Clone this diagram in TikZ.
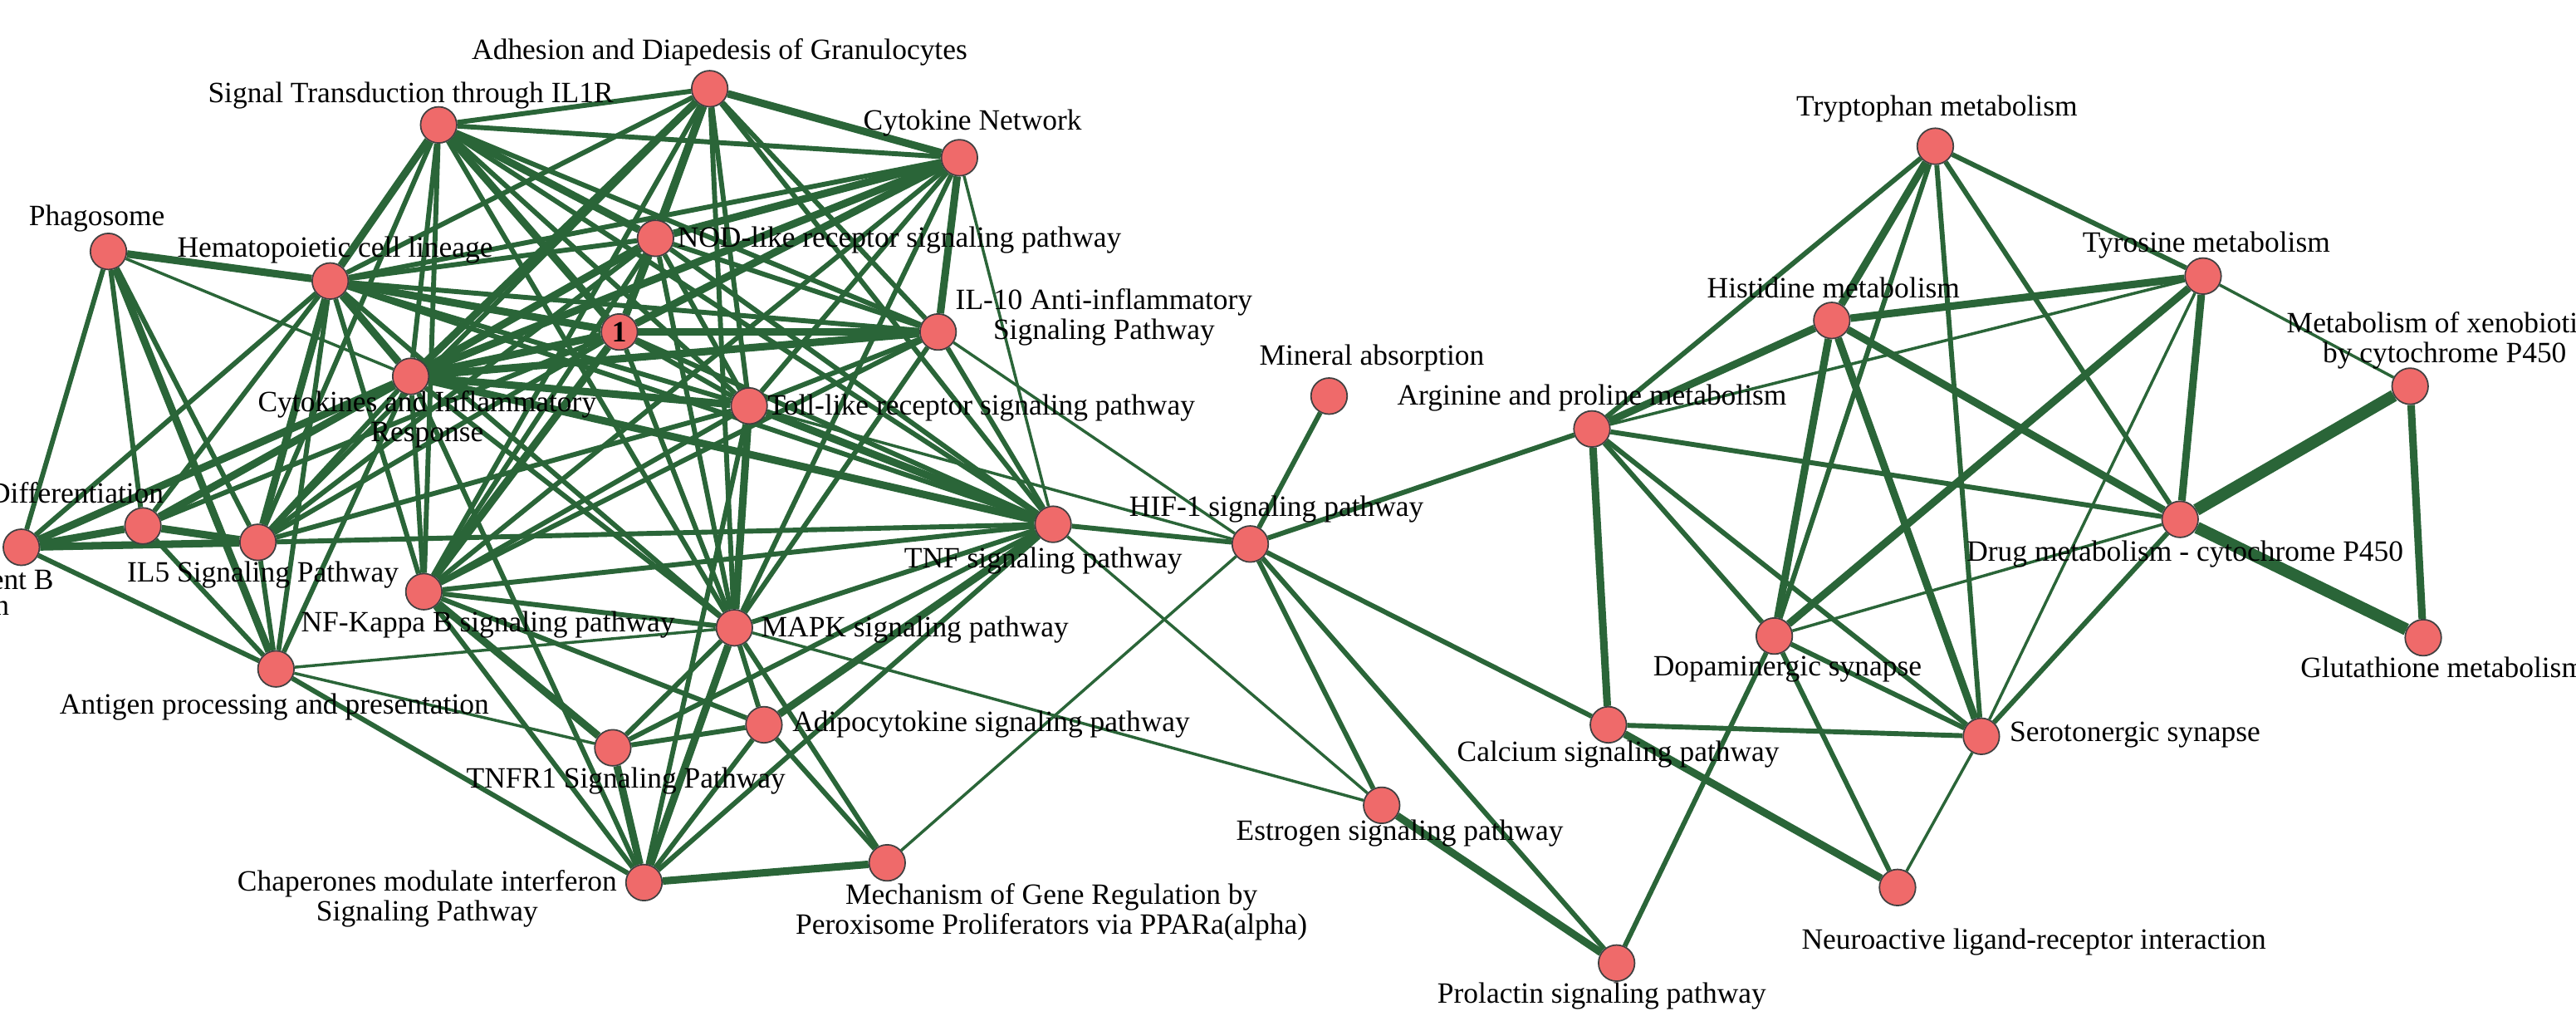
\documentclass[tikz,border=0pt]{standalone}
\usepackage{fontspec}
\setmainfont{Liberation Serif}
\definecolor{nodefill}{RGB}{239,106,106}
\definecolor{edgegreen}{RGB}{42,101,56}
\pgfdeclarelayer{bg}
\pgfsetlayers{bg,main}
\newcommand{\lblfont}{\fontsize{10.2pt}{10.4pt}\selectfont}
\tikzset{
  pnode/.style={circle, draw=black!75, line width=0.5pt, fill=nodefill, minimum size=0.44cm, inner sep=0pt},
  lbl/.style={font=\lblfont, inner sep=0pt, align=center, text=black},
  ea/.style={draw=edgegreen, line width=1.0pt},
  eb/.style={draw=edgegreen, line width=1.7pt},
  ec/.style={draw=edgegreen, line width=2.6pt},
  ed/.style={draw=edgegreen, line width=4.2pt}
}
\begin{document}
\begin{tikzpicture}[x=0.02cm,y=-0.02cm]
\useasboundingbox (0,0) rectangle (1568,618);
\clip (0,0) rectangle (1568,618);
% nodes
\node[pnode] (adh) at (432,54) {};
\node[pnode] (il1r) at (267,76) {};
\node[pnode] (cyt) at (584,96) {};
\node[pnode] (phag) at (66,153) {};
\node[pnode] (hema) at (201,171) {};
\node[pnode] (nod) at (399,145) {};
\node[pnode, font=\lblfont\bfseries] (one) at (377,202) {1};
\node[pnode] (il10) at (571,202) {};
\node[pnode] (cir) at (250,229) {};
\node[pnode] (tlr) at (456,247) {};
\node[pnode] (bnode) at (13,333) {};
\node[pnode] (dnode) at (87,320) {};
\node[pnode] (il5) at (157,330) {};
\node[pnode] (nfkb) at (258,360) {};
\node[pnode] (mapk) at (447,382) {};
\node[pnode] (tnf) at (641,319) {};
\node[pnode] (ag) at (168,407) {};
\node[pnode] (tnfr) at (373,455) {};
\node[pnode] (adipo) at (465,441) {};
\node[pnode] (chap) at (392,537) {};
\node[pnode] (mech) at (540,525) {};
\node[pnode] (hif) at (761,331) {};
\node[pnode] (estr) at (841,490) {};
\node[pnode] (minr) at (809,241) {};
\node[pnode] (prol) at (984,586) {};
\node[pnode] (ca) at (979,441) {};
\node[pnode] (arg) at (969,261) {};
\node[pnode] (trp) at (1178,89) {};
\node[pnode] (tyr) at (1341,168) {};
\node[pnode] (his) at (1115,195) {};
\node[pnode] (xeno) at (1467,235) {};
\node[pnode] (drug) at (1327,316) {};
\node[pnode] (glu) at (1475,388) {};
\node[pnode] (dopa) at (1080,387) {};
\node[pnode] (sero) at (1206,448) {};
\node[pnode] (neuro) at (1155,540) {};
% edges
\begin{pgfonlayer}{bg}
\fill[white] (0,0) rectangle (1568,618);
\foreach \a/\b in {il10/hif, tlr/hif, tnf/estr, mapk/estr, mech/hif, ag/mapk, ag/tnfr, cyt/tnf, phag/cir, tyr/sero, dopa/drug, sero/neuro, tyr/xeno, arg/tyr}
  \draw[ea] (\a) -- (\b);
\foreach \a/\b in {adh/il1r, adh/il10, adh/tlr, adh/hema, adh/tnf, adh/mapk, adh/il5, adh/nfkb,
  il1r/cyt, il1r/cir, il1r/nfkb, il1r/il10, il1r/tlr, il1r/tnf, il1r/mapk, il1r/il5,
  cyt/hema, cyt/tlr, cyt/mapk, cyt/nfkb,
  nod/hema, nod/il10, nod/tlr, nod/tnf, nod/mapk, nod/nfkb, nod/il5,
  one/tlr, one/tnf, one/mapk, one/il5, one/dnode,
  il10/hema, il10/tlr, il10/tnf, il10/mapk, il10/nfkb,
  cir/mapk, cir/nfkb, cir/il5, cir/ag, cir/chap,
  tlr/hema, tlr/nfkb, tlr/il5, tlr/chap,
  tnf/hema, tnf/nfkb, tnf/mapk, tnf/tnfr, tnf/chap, tnf/il5, tnf/hif,
  mapk/nfkb, mapk/tnfr, mapk/adipo, mapk/mech, mapk/hema,
  nfkb/chap, nfkb/adipo, nfkb/hema,
  tnfr/adipo, adipo/chap, adipo/mech,
  chap/ag, ag/bnode, ag/dnode, ag/il5, ag/hema,
  phag/bnode, phag/dnode, phag/il5,
  bnode/hema, dnode/hema,
  trp/arg, trp/tyr, trp/dopa, trp/sero, trp/drug,
  arg/hif, arg/dopa, arg/sero, arg/drug,
  dopa/sero, drug/sero, ca/sero, dopa/prol, dopa/neuro, hif/ca, hif/prol, hif/estr, hif/minr}
  \draw[eb] (\a) -- (\b);
\foreach \a/\b in {adh/cyt, adh/nod, adh/one, adh/cir, il1r/hema, il1r/nod, il1r/one,
  cyt/nod, cyt/one, cyt/il10, cyt/cir, nod/one, nod/cir, one/hema, one/cir, one/il10, one/nfkb,
  cir/hema, cir/il10, cir/tlr, cir/tnf, tlr/tnf, tlr/mapk, hema/phag,
  bnode/dnode, bnode/il5, bnode/cir, dnode/il5, dnode/cir, il5/hema, phag/ag,
  nfkb/tnfr, tnfr/chap, mapk/chap, chap/mech, adipo/tnf, estr/prol,
  arg/ca, arg/his, his/tyr, trp/his, his/dopa, his/sero, his/drug, tyr/dopa, tyr/drug, ca/neuro, xeno/glu}
  \draw[ec] (\a) -- (\b);
\foreach \a/\b in {xeno/drug, drug/glu}
  \draw[ed] (\a) -- (\b);
\end{pgfonlayer}
% labels
\node[lbl] (l-adh) at (438,32) {Adhesion and Diapedesis of Granulocytes};
\node[lbl] (l-il1r) at (250,58) {Signal Transduction through IL1R};
\node[lbl] (l-cyt) at (592,75) {Cytokine Network};
\node[lbl] (l-phag) at (59,133) {Phagosome};
\node[lbl] (l-hema) at (204,152) {Hematopoietic cell lineage};
\node[lbl, anchor=west] (l-nod) at (412,146) {NOD-like receptor signaling pathway};
\node[lbl] (l-il10) at (672,193) {IL-10 Anti-inflammatory\\Signaling Pathway};
\node[lbl] (l-cir) at (260,255) {Cytokines and Inflammatory\\Response};
\node[lbl, anchor=west] (l-tlr) at (467,248) {Toll-like receptor signaling pathway};
\node[lbl] (l-min) at (835,218) {Mineral absorption};
\node[lbl] (l-arg) at (969,242) {Arginine and proline metabolism};
\node[lbl] (l-hif) at (777,310) {HIF-1 signaling pathway};
\node[lbl] (l-tnf) at (635,341) {TNF signaling pathway};
\node[lbl, anchor=west] (l-mapk) at (463,383) {MAPK signaling pathway};
\node[lbl] (l-nfkb) at (297,380) {NF-Kappa B signaling pathway};
\node[lbl] (l-il5) at (160,350) {IL5 Signaling Pathway};
\node[lbl] (l-ag) at (167,430) {Antigen processing and presentation};
\node[lbl] (l-tnfr) at (381,475) {TNFR1 Signaling Pathway};
\node[lbl, anchor=west] (l-adipo) at (482,441) {Adipocytokine signaling pathway};
\node[lbl] (l-chap) at (260,547) {Chaperones modulate interferon\\Signaling Pathway};
\node[lbl] (l-mech) at (640,555) {Mechanism of Gene Regulation by\\Peroxisome Proliferators via PPARa(alpha)};
\node[lbl] (l-estr) at (852,507) {Estrogen signaling pathway};
\node[lbl] (l-prol) at (975,606) {Prolactin signaling pathway};
\node[lbl] (l-ca) at (985,459) {Calcium signaling pathway};
\node[lbl] (l-dopa) at (1088,407) {Dopaminergic synapse};
\node[lbl] (l-trp) at (1179,66) {Tryptophan metabolism};
\node[lbl] (l-tyr) at (1343,149) {Tyrosine metabolism};
\node[lbl] (l-his) at (1116,175) {Histidine metabolism};
\node[lbl] (l-xeno) at (1488,207) {Metabolism of xenobiotics\\by cytochrome P450};
\node[lbl] (l-drug) at (1330,337) {Drug metabolism - cytochrome P450};
\node[lbl, anchor=west] (l-glu) at (1400,406) {Glutathione metabolism};
\node[lbl, anchor=west] (l-sero) at (1223,447) {Serotonergic synapse};
\node[lbl] (l-neuro) at (1238,573) {Neuroactive ligand-receptor interaction};
\node[lbl, anchor=east] (l-d) at (100,300) {Differentiation};
\node[lbl, anchor=east] (l-b1) at (33,353) {ent B};
\node[lbl, anchor=east] (l-b2) at (6,370) {n};
\end{tikzpicture}
\end{document}
